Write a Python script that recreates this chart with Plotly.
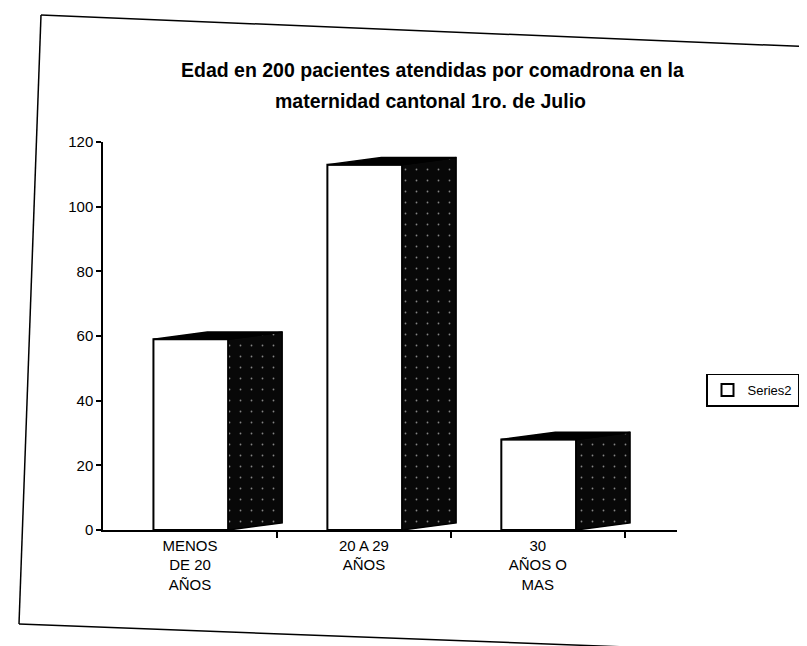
import plotly.graph_objects as go

# ---- data ----
categories = ["MENOS<br>DE 20<br>AÑOS", "20 A 29<br>AÑOS", "30<br>AÑOS O<br>MAS"]
values = [59, 113, 28]
y_ticks = [0, 20, 40, 60, 80, 100, 120]
series_name = "Series2"
title_line1 = "Edad en 200 pacientes atendidas por comadrona en la"
title_line2 = "maternidad cantonal 1ro. de Julio"

# ---- pseudo-3D geometry (in axis units) ----
FRONT_W = 0.43
FRONT_OFF = -0.21
DEPTH = 0.31
RISE = 2.2

W, H = 807, 646
ML, MR, MT, MB = 95, 138, 134, 124
PW, PH = W - ML - MR, H - MT - MB

def px(xp, yp):
    return (xp - ML) / PW, (H - MB - yp) / PH

FONT = "Liberation Sans, Arial, sans-serif"

x_pos = list(range(len(categories)))

fig = go.Figure()
fig.add_trace(go.Bar(
    x=x_pos, y=values, width=FRONT_W, offset=FRONT_OFF,
    marker=dict(color="white", line=dict(color="black", width=2)),
    name=series_name, showlegend=True, hoverinfo="skip",
))

for i, v in zip(x_pos, values):
    r = i + FRONT_OFF + FRONT_W
    fig.add_trace(go.Scatter(
        x=[r, r + DEPTH, r + DEPTH, r, r],
        y=[0, RISE, v + RISE, v, 0],
        mode="lines", fill="toself",
        fillcolor="#080808",
        fillpattern=dict(shape=".", bgcolor="#080808", fgcolor="#ffffff", size=11, solidity=0.02),
        line=dict(color="black", width=1.5),
        showlegend=False, hoverinfo="skip",
    ))
    fig.add_trace(go.Scatter(
        x=[i + FRONT_OFF, r, r + DEPTH, i + FRONT_OFF + DEPTH, i + FRONT_OFF],
        y=[v, v, v + RISE, v + RISE, v],
        mode="lines", fill="toself", fillcolor="black",
        line=dict(color="black", width=1.5),
        showlegend=False, hoverinfo="skip",
    ))

# frame (slightly skewed like the scanned page)
frame_pts = [(33, 7), (807, 39), (803, 646), (11, 616)]
shapes = []
for a, b in [(0, 1), (1, 2), (3, 0), (3, 2)]:
    x0, y0 = px(*frame_pts[a])
    x1, y1 = px(*frame_pts[b])
    shapes.append(dict(type="line", xref="paper", yref="paper",
                       x0=x0, y0=y0, x1=x1, y1=y1,
                       line=dict(color="black", width=1.5)))

t1x, t1y = px(424, 62)
t2x, t2y = px(422, 93)
annotations = [
    dict(text="<b>%s</b>" % title_line1, x=t1x, y=t1y, xref="paper", yref="paper",
         showarrow=False, font=dict(family=FONT, size=19.5, color="black"),
         xanchor="center", yanchor="middle"),
    dict(text="<b>%s</b>" % title_line2, x=t2x, y=t2y, xref="paper", yref="paper",
         showarrow=False, font=dict(family=FONT, size=19.5, color="black"),
         xanchor="center", yanchor="middle"),
]

lgx, lgy = px(698, 382)

fig.update_layout(
    width=W, height=H,
    margin=dict(l=ML, r=MR, t=MT, b=MB, autoexpand=False),
    paper_bgcolor="white", plot_bgcolor="white",
    font=dict(family=FONT, size=15, color="black"),
    showlegend=True,
    legend=dict(x=lgx, y=lgy, xanchor="left", yanchor="middle",
                bordercolor="black", borderwidth=1.5, bgcolor="white",
                font=dict(family=FONT, size=13, color="black"),
                itemwidth=30, tracegroupgap=0),
    shapes=shapes,
    annotations=annotations,
    xaxis=dict(range=[-0.5, 2.8], tickmode="array", tickvals=x_pos, ticktext=categories,
               ticks="", showline=True, linecolor="black", linewidth=1.5,
               showgrid=False, zeroline=False, ticklabelstandoff=1,
               minor=dict(tickmode="array", tickvals=[i + 0.5 for i in x_pos],
                          ticks="outside", ticklen=6, tickcolor="black", tickwidth=1.5,
                          showgrid=False),
               tickfont=dict(family=FONT, size=15, color="black")),
    yaxis=dict(range=[0, 120], tickmode="array", tickvals=y_ticks,
               ticks="outside", ticklen=5, tickcolor="black", tickwidth=1.5,
               showline=True, linecolor="black", linewidth=1.5,
               showgrid=False, zeroline=False,
               tickfont=dict(family=FONT, size=15, color="black")),
)

fig.write_html("out.html")
